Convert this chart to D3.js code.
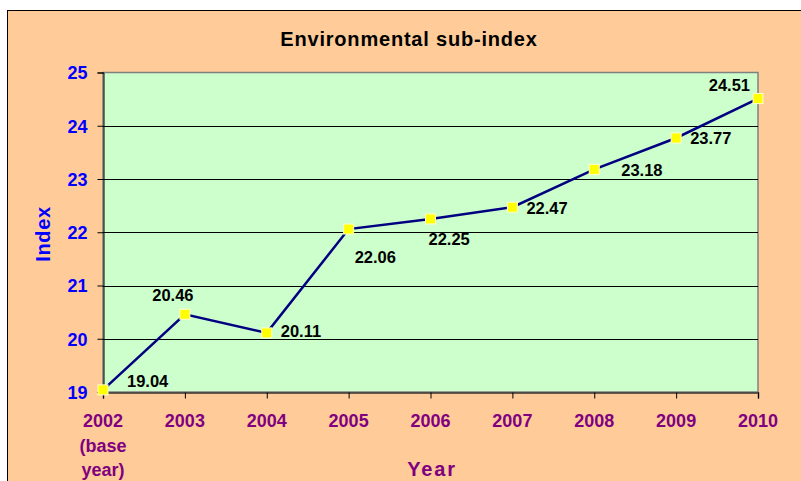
<!DOCTYPE html>
<html>
<head>
<meta charset="utf-8">
<script src="https://cdn.jsdelivr.net/npm/d3@7"></script>
<style>
body{margin:0;background:#fff;}
svg text{font-family:"Liberation Sans",Arial,sans-serif;font-weight:bold;}
</style>
</head>
<body>
<svg id="chart" width="801" height="481"></svg>
<script>
/* data */
var YEARS=["2002","2003","2004","2005","2006","2007","2008","2009","2010"];
var YEAR_LINES=[["2002","(base","year)"],["2003"],["2004"],["2005"],["2006"],["2007"],["2008"],["2009"],["2010"]];
var VALUES=[19.04,20.46,20.11,22.06,22.25,22.47,23.18,23.77,24.51];
var Y_TICKS=[19,20,21,22,23,24,25];
var TITLE="Environmental sub-index";

// label placement (dx, dy from the marker, anchor)
var LABEL_OFFSET=[[24,-3,"start"],[-12,-13,"middle"],[14,4,"start"],[6,34,"start"],[-2,26,"start"],[14,7,"start"],[27,7,"start"],[14,6,"start"],[-8,-8,"end"]];

/* layout */
var PLOT_LEFT=103, PLOT_RIGHT=758, PLOT_TOP=72.5, PLOT_BOTTOM=392;

var svg=d3.select("#chart");

// outer chart area
svg.append("rect")
	.attr("x",7.5).attr("y",10.5)
	.attr("width",820).attr("height",500)
	.style("fill","#FFCC99")
	.style("stroke","#000")
	.style("stroke-width",1);

var x=d3.scalePoint().domain(YEARS).range([PLOT_LEFT,PLOT_RIGHT]);
var y=d3.scaleLinear().domain([19,25]).range([PLOT_BOTTOM,PLOT_TOP]);

// plot area
svg.append("rect")
	.attr("x",PLOT_LEFT).attr("y",PLOT_TOP)
	.attr("width",PLOT_RIGHT-PLOT_LEFT).attr("height",PLOT_BOTTOM-PLOT_TOP)
	.style("fill","#CCFFCC")
	.style("stroke","#808080")
	.style("stroke-width",1.5);

// grid lines
svg.append("g").selectAll("line").data(Y_TICKS.slice(1,-1)).enter().append("line")
	.attr("x1",PLOT_LEFT).attr("x2",PLOT_RIGHT)
	.attr("y1",function(d){return Math.round(y(d))+0.5;})
	.attr("y2",function(d){return Math.round(y(d))+0.5;})
	.style("stroke","#000").style("stroke-width",1);

// y axis
var yAxis=svg.append("g")
	.attr("transform","translate("+(PLOT_LEFT+0.5)+",0)")
	.call(d3.axisLeft(y).tickValues(Y_TICKS).tickSize(6).tickPadding(10).tickFormat(d3.format("d")));
yAxis.select(".domain").style("stroke","#000");
yAxis.selectAll(".tick line").style("stroke","#000");
yAxis.selectAll(".tick text")
	.style("fill","#0000FF").style("font-size","18px")
	.attr("dy","0.36em");

// x axis
var xAxis=svg.append("g")
	.attr("transform","translate(0,"+(PLOT_BOTTOM+0.5)+")")
	.call(d3.axisBottom(x).tickSize(6).tickFormat(""));
xAxis.select(".domain").style("stroke","#333").style("stroke-width",1.5);
xAxis.selectAll(".tick line").style("stroke","#000");

var xLabels=svg.append("g").selectAll("text").data(YEAR_LINES).enter().append("text")
	.attr("text-anchor","middle")
	.style("fill","#800080").style("font-size","18px");
xLabels.each(function(lines,i){
	var t=d3.select(this);
	lines.forEach(function(s,j){
		t.append("tspan")
			.attr("x",x(YEARS[i]))
			.attr("y",427+j*24.5)
			.text(s);
	});
});

// series line
var line=d3.line()
	.x(function(d,i){return x(YEARS[i]);})
	.y(function(d){return y(d);});
svg.append("path")
	.datum(VALUES)
	.attr("d",line)
	.style("fill","none")
	.style("stroke","#000080")
	.style("stroke-width",2.5);

// markers
svg.append("g").selectAll("rect").data(VALUES).enter().append("rect")
	.attr("x",function(d,i){return x(YEARS[i])-5;})
	.attr("y",function(d){return y(d)-5;})
	.attr("width",10).attr("height",10)
	.style("fill","#FFFF00")
	.style("stroke","#FFFFCC")
	.style("stroke-width",1);

// data labels
svg.append("g").selectAll("text").data(VALUES).enter().append("text")
	.attr("x",function(d,i){return x(YEARS[i])+LABEL_OFFSET[i][0];})
	.attr("y",function(d,i){return y(d)+LABEL_OFFSET[i][1];})
	.attr("text-anchor",function(d,i){return LABEL_OFFSET[i][2];})
	.style("fill","#000").style("font-size","16.5px")
	.text(function(d){return d3.format(".2f")(d);});

// title
svg.append("text")
	.attr("x",409).attr("y",46)
	.attr("text-anchor","middle")
	.style("font-size","20px").style("letter-spacing","0.8px").style("fill","#000")
	.text(TITLE);

// axis titles
svg.append("text")
	.attr("transform","translate(50,234) rotate(-90)")
	.attr("text-anchor","middle")
	.style("font-size","20px").style("letter-spacing","0.6px").style("fill","#0000FF")
	.text("Index");
svg.append("text")
	.attr("x",432).attr("y",476)
	.attr("text-anchor","middle")
	.style("font-size","20px").style("letter-spacing","1.8px").style("fill","#800080")
	.text("Year");
</script>
</body>
</html>
